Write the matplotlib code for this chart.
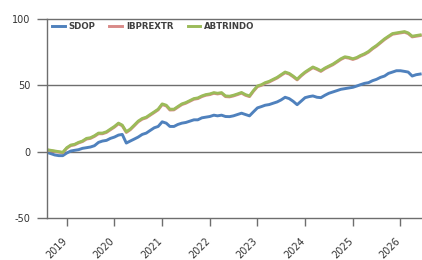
import pandas as pd
import matplotlib
matplotlib.use("Agg")
import matplotlib.pyplot as plt
import matplotlib.dates as mdates
import matplotlib.transforms as mtransforms

plt.rcParams['axes.unicode_minus'] = False

# monthly cumulative performance (%), Aug 2018 - Jun 2026
dates = pd.date_range("2018-08-01", "2026-06-01", freq="MS")

sdop = [-0.5, -1.5, -2.5, -3, -3,
        -1, 0.5, 1, 1.5, 2.5, 3, 3.5, 4.5, 7, 8, 8.5, 10,
        11, 12.5, 13, 6.5, 8, 9.5, 11, 13, 14, 16, 18, 19,
        22.5, 21.5, 19, 19, 20.5, 21.5, 22, 23, 24, 24, 25.5, 26,
        26.5, 27.5, 27, 27.5, 26.5, 26.4, 27, 28, 29, 28, 27, 30,
        33, 34, 35, 35.5, 36.5, 37.5, 39, 41, 40, 38, 35.4, 38,
        40.7, 41.5, 42, 41, 40.7, 42.5, 44, 45, 46, 47, 47.5, 48,
        48.5, 49.5, 50.5, 51.5, 52, 53.5, 54.5, 56, 57, 59, 60, 61,
        61, 60.5, 60, 57, 58, 58.5]

ibprextr = [1.2, 0.7, 0.2, -0.3, -0.8,
            2.6, 4.6, 5.1, 6.6, 7.6, 9.5, 10, 11.5, 13.5, 13.5, 14.5, 16.5,
            18.5, 21, 19.5, 14.5, 16.5, 19.5, 22.5, 24.5, 25.5, 27.5, 29.5, 31.5,
            35.5, 34.5, 31.4, 31.5, 33.5, 35.5, 36.5, 38, 39.5, 40, 41.5, 42.5,
            43, 44, 43.5, 44, 41.5, 41.3, 42, 43, 44.1, 42.5, 41.5, 45.5,
            49, 50, 51.5, 52.5, 54, 55.5, 57.5, 59.5, 58.5, 56.5, 54.1, 57,
            59.5, 61.5, 63.3, 62, 60.5, 62.5, 64, 65.5, 67.5, 69.5, 71, 70.5,
            69.5, 70.5, 72, 73.3, 75, 77.5, 79.5, 82, 84.5, 86.5, 88.5, 89,
            89.5, 90, 89, 86.5, 87, 87.5]

abtrindo = [1.5, 1, 0.5, 0, -0.5,
            3, 5, 5.5, 7, 8, 10, 10.5, 12, 14, 14, 15, 17,
            19, 21.5, 20, 15, 17, 20, 23, 25, 26, 28, 30, 32,
            36, 35, 32, 32, 34, 36, 37, 38.5, 40, 40.5, 42, 43,
            43.5, 44.5, 44, 44.5, 42, 41.8, 42.5, 43.5, 44.6, 43, 42, 46,
            49.5, 50.5, 52, 53, 54.5, 56, 58, 60, 59, 57, 54.6, 57.5,
            60, 62, 63.8, 62.5, 61, 63, 64.5, 66, 68, 70, 71.5, 71,
            70, 71, 72.5, 73.8, 75.5, 78, 80, 82.5, 85, 87, 89, 89.5,
            90, 90.5, 89.5, 87, 87.5, 88]

series = [("SDOP", sdop, "#4f81bd"),
          ("IBPREXTR", ibprextr, "#d98a88"),
          ("ABTRINDO", abtrindo, "#9bbb59")]

yticks = [-50, 0, 50, 100]
years = [2019, 2020, 2021, 2022, 2023, 2024, 2025, 2026]

fig = plt.figure(figsize=(4.22, 2.6), dpi=100)
ax = fig.add_axes([0.111, 0.1615, 0.889, 0.7655])

for name, vals, col in series:
    ax.plot(dates, vals, color=col, lw=2.1, label=name, solid_joinstyle="round")

ax.set_ylim(-50, 100)
ax.set_xlim(dates[0], pd.Timestamp("2026-06-15"))
ax.set_yticks(yticks)
ax.set_xticks([pd.Timestamp(f"{y}-01-01") for y in years])
ax.xaxis.set_major_formatter(mdates.DateFormatter("%Y"))

gcol = "#6e6e6e"
for v in [0, 50]:
    ax.axhline(v, color=gcol, lw=1.0, zorder=0)
for s in ["top", "left", "bottom"]:
    ax.spines[s].set_color(gcol)
    ax.spines[s].set_linewidth(1.0)
ax.spines["right"].set_visible(False)

ax.tick_params(axis="y", length=7, width=1, color=gcol, labelsize=7,
               labelcolor="#333333", pad=5)
ax.tick_params(axis="x", length=6, width=1, color=gcol, labelsize=7,
               labelcolor="#333333", pad=7)
shift = mtransforms.ScaledTranslation(-5 / 100, 0, fig.dpi_scale_trans)
for lab in ax.get_xticklabels():
    lab.set_rotation(45)
    lab.set_ha("right")
    lab.set_va("top")
    lab.set_rotation_mode("anchor")
    lab.set_transform(lab.get_transform() + shift)

leg = ax.legend(loc="upper left", ncol=3, frameon=False, fontsize=6.2,
                handlelength=1.5, columnspacing=1.6, handletextpad=0.45,
                bbox_to_anchor=(0.0, 1.01), borderaxespad=0.2)
for t in leg.get_texts():
    t.set_fontweight("bold")
    t.set_color("#404040")

fig.savefig("out.png", dpi=100)
